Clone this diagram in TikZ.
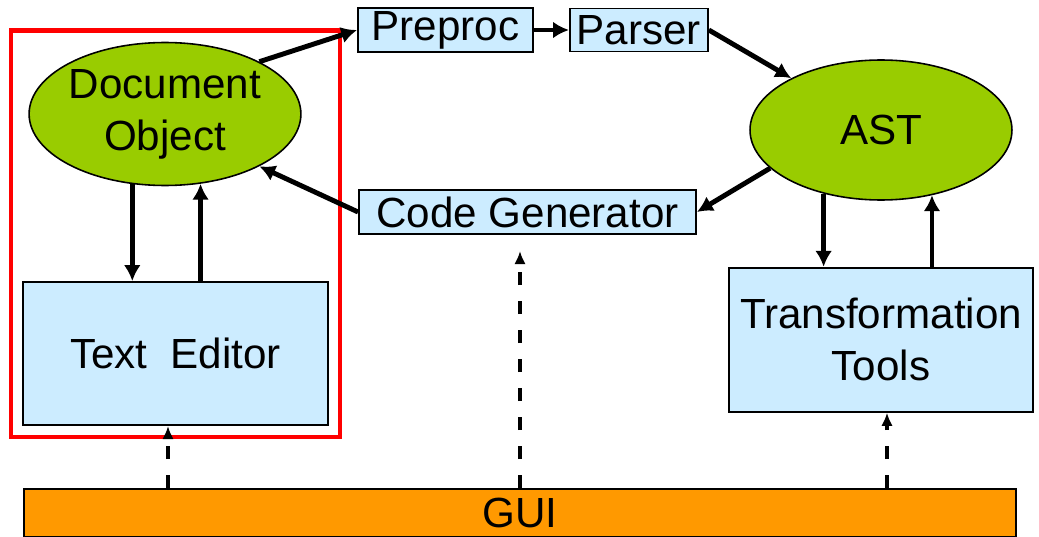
\documentclass[tikz,border=0pt]{standalone}
\usepackage{fontspec}
\setmainfont{Liberation Sans}
\usepackage{tikz}
\usetikzlibrary{shapes,arrows.meta,positioning,fit}

\definecolor{OBJ_GREEN}{HTML}{99CC00}
\definecolor{BOX_BLUE}{HTML}{CCECFF}
\definecolor{GUI_ORANGE}{HTML}{FF9900}
\tikzstyle{obj}   = [ellipse, draw=black, line width=0.9pt, fill=OBJ_GREEN, inner sep=0pt, align=center]
\tikzstyle{stage} = [rectangle, draw=black, line width=1.1pt, fill=BOX_BLUE, inner sep=0pt, align=center]
\tikzstyle{flow}  = [line width=2.8pt, -{Latex[length=9pt,width=9.5pt]}]
\tikzstyle{gui_flow} = [line width=2.2pt, dash pattern=on 7.5pt off 9pt, -{Latex[length=7.5pt,width=6.5pt]}]

\begin{document}
\begin{tikzpicture}[x=0.02cm, y=-0.02cm, font=\fontsize{24}{29.5}\selectfont]
      \useasboundingbox (0,0) rectangle (1039,537);

      % editor side
      \node[obj, minimum width=5.22cm, minimum height=2.86cm] (DOC) at (165,114) {Document\\Object};
      \node[stage, minimum width=6.1cm, minimum height=2.86cm] (TE) at (175.5,353.5) {Text\ \ Editor};
      \node[draw=red, line width=2.6pt, inner sep=0.22cm, fit=(DOC)(TE)] (EDIT) {};

      % compiler pipeline
      \node[stage, minimum width=3.5cm, minimum height=0.88cm] (PRE) at (445.5,30) {Preproc};
      \node[stage, minimum width=2.76cm, minimum height=0.86cm, right=0.7cm of PRE] (PAR) {Parser};
      \node[obj, minimum width=5.24cm, minimum height=2.8cm] (AST) at (881,130) {AST};
      \node[stage, minimum width=6.74cm, minimum height=0.88cm] (CG) at (527.5,212) {Code Generator};
      \node[stage, minimum width=6.08cm, minimum height=2.88cm, below=1.32cm of AST] (TT) {Transformation\\Tools};

      \node[rectangle, draw=black, line width=1.1pt, fill=GUI_ORANGE, minimum width=19.84cm, minimum height=0.96cm] (GUI) at (520,513) {GUI};

      % solid flows
      \draw[flow] (DOC.29) -- (PRE.west);
      \draw[flow] (PRE) -- (PAR);
      \draw[flow] (PAR.east) -- (AST.150);
      \draw[flow] (AST.199) -- (CG.east);
      \draw[flow] (CG.west) -- (DOC.331);
      \draw[flow] (DOC.245) -- (DOC.245 |- TE.north);
      \draw[flow] (DOC.297 |- TE.north) -- (DOC.297);
      \draw[flow] (AST.228) -- (AST.228 |- TT.north);
      \draw[flow] (AST.308 |- TT.north) -- (AST.308);

      % GUI hooks
      \coordinate (CGIN) at ([xshift=-0.15cm, yshift=-0.32cm]CG.south);
      \draw[gui_flow] ([xshift=-0.15cm]TE.south |- GUI.north) -- ([xshift=-0.15cm]TE.south);
      \draw[gui_flow] (CGIN |- GUI.north) -- (CGIN);
      \draw[gui_flow] ([xshift=0.12cm]TT.south |- GUI.north) -- ([xshift=0.12cm]TT.south);
\end{tikzpicture}
\end{document}
